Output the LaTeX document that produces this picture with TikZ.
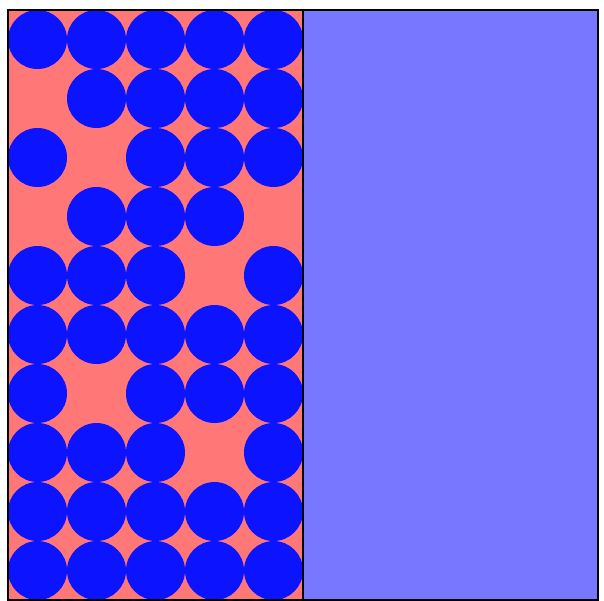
\documentclass[tikz,border=0pt]{standalone}
\definecolor{salmonbg}{HTML}{FF7777}
\definecolor{lavbg}{HTML}{7777FF}
\definecolor{dotblue}{HTML}{0C14FF}
\begin{document}
\begin{tikzpicture}[x=1pt,y=-1pt,
  dot/.style={fill=dotblue,draw=none},
  frameline/.style={draw=black,line width=2pt}]
\useasboundingbox (0,0) rectangle (604,600);
\fill[salmonbg] (8,10) rectangle (303,600);
\fill[lavbg] (303,10) rectangle (598,600);
% rows: 1 = present
\foreach \row/\pattern in {1/{1,1,1,1,1},2/{0,1,1,1,1},3/{1,0,1,1,1},4/{0,1,1,1,0},5/{1,1,1,0,1},6/{1,1,1,1,1},7/{1,0,1,1,1},8/{1,1,1,0,1},9/{1,1,1,1,1},10/{1,1,1,1,1}}{
  \foreach \v [count=\col] in \pattern {
    \ifnum\v=1
      \fill[dot] ({8+59*\col-29.5},{10+59*\row-29.5}) circle (29.5);
    \fi
  }
}
\draw[frameline] (8,10) rectangle (598,600);
\draw[frameline] (303,10) -- (303,600);
\end{tikzpicture}
\end{document}
